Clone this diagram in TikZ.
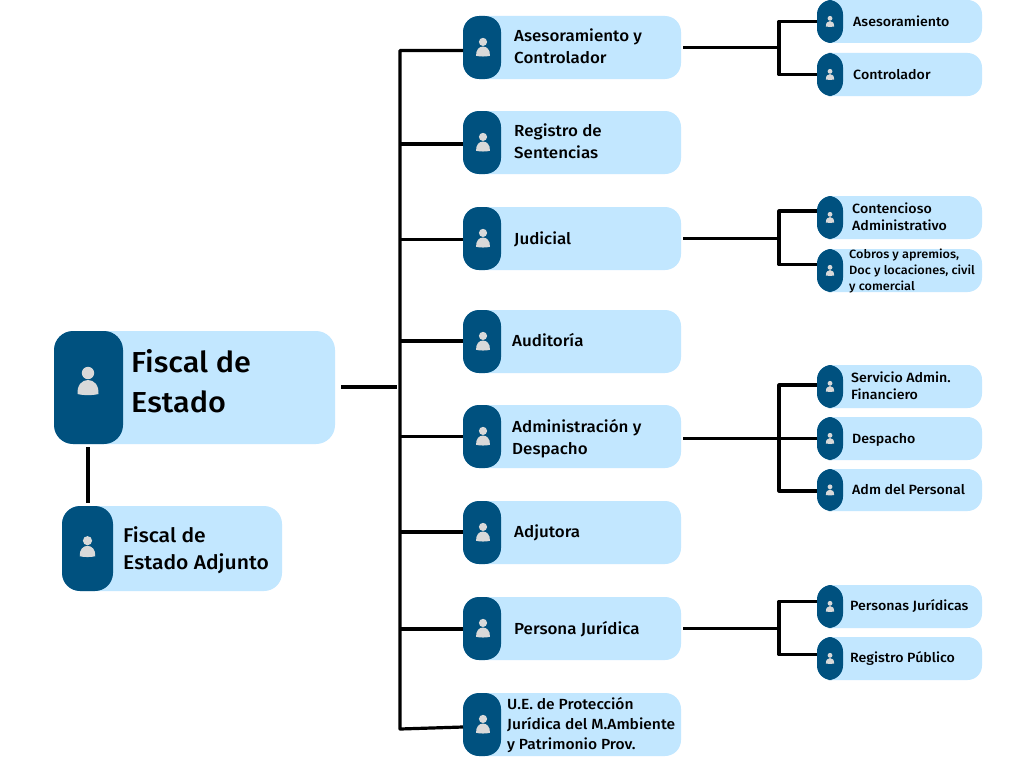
\documentclass[tikz,border=0pt]{standalone}
\usepackage{fontspec}
\setmainfont{Fira Sans Medium}[FakeStretch=1.06]
\definecolor{cardlight}{HTML}{C2E7FF}
\definecolor{carddark}{HTML}{00517F}
\definecolor{icongray}{HTML}{D9D9D9}
\tikzset{
  cardbody/.style={fill=cardlight,inner sep=0pt,outer sep=0pt,rounded corners=#1},
  cardhead/.style={fill=carddark,inner sep=0pt,outer sep=0pt,rounded corners=#1},
  labelbig/.style={anchor=west,align=left,inner sep=0pt,font=\fontsize{28.9}{40}\selectfont},
  labeladj/.style={anchor=west,align=left,inner sep=0pt,font=\fontsize{19.9}{27}\selectfont},
  labelmid/.style={anchor=west,align=left,inner sep=0pt,font=\fontsize{16}{22}\selectfont},
  labelsub/.style={anchor=west,align=left,inner sep=0pt,font=\fontsize{13.4}{17}\selectfont},
  labeltiny/.style={anchor=west,align=left,inner sep=0pt,font=\fontsize{12}{16}\selectfont},
  wire/.style={draw=black,line width=3.2pt,line join=round},
}
\newcommand{\orgcard}[9]{%
  \pgfmathsetmacro{\cw}{#4-#2}\pgfmathsetmacro{\ch}{#5-#3}%
  \pgfmathsetmacro{\cx}{(#2+#4)/2}\pgfmathsetmacro{\cy}{(#3+#5)/2}%
  \pgfmathsetmacro{\dw}{#6-#2}\pgfmathsetmacro{\dx}{(#2+#6)/2}%
  \pgfmathsetmacro{\icx}{\dx+\ix}\pgfmathsetmacro{\icy}{\cy+\iy}%
  \node[cardbody=#7,minimum width=\cw pt,minimum height=\ch pt] (#1) at (\cx,\cy) {};
  \node[cardhead=#7,minimum width=\dw pt,minimum height=\ch pt] (#1h) at (\dx,\cy) {};
  \begin{scope}[shift={(\icx,\icy)},scale=#8]
    \fill[icongray] (0,-13) circle (6.2);
    \fill[icongray] (-10.5,8) .. controls (-11,-1) and (-6,-6) .. (0,-6) .. controls (6,-6) and (11,-1) .. (10.5,8) .. controls (5,9.5) and (-5,9.5) .. (-10.5,8) -- cycle;
  \end{scope}
  \node[#9] (#1t) at (\textx,\cy)%
}
\begin{document}
\begin{tikzpicture}[x=1pt,y=-1pt]
\useasboundingbox (0,0) rectangle (1024,768);
\fill[white] (0,0) rectangle (1024,768);

\def\ix{-.5}\def\iy{-1.5}
\def\textx{131}\orgcard{main}{54}{331}{335}{444}{123}{19}{1}{labelbig,yshift=6pt} {Fiscal de\\Estado};
\def\ix{0}\def\iy{1.8}
\def\textx{123}\orgcard{adj}{62}{506}{282}{591}{113}{18}{.74}{labeladj,yshift=-2pt} {Fiscal de\\Estado Adjunto};

\def\ix{1}\def\iy{3}
\def\textx{514}\orgcard{ma}{463}{16}{681}{79}{501}{16}{.66}{labelmid,yshift=1pt} {Asesoramiento y\\Controlador};
\def\textx{514}\orgcard{mb}{463}{111}{681}{174}{501}{16}{.66}{labelmid,yshift=1pt} {Registro de\\Sentencias};
\def\textx{514}\orgcard{mc}{463}{207}{681}{270}{501}{16}{.66}{labelmid,yshift=-1pt} {Judicial};
\def\textx{512}\orgcard{md}{463}{310}{681}{373}{501}{16}{.66}{labelmid,yshift=1pt} {Auditoría};
\def\textx{512}\orgcard{me}{463}{405}{681}{468}{501}{16}{.66}{labelmid,yshift=-2pt} {Administración y\\Despacho};
\def\textx{514}\orgcard{mf}{463}{501}{681}{564}{501}{16}{.66}{labelmid,yshift=-0.5pt} {Adjutora};
\def\textx{514}\orgcard{mg}{463}{597}{681}{660}{501}{16}{.66}{labelmid,yshift=-1pt} {Persona Jurídica};
\def\textx{507}\orgcard{mh}{463}{693}{681}{756}{501}{16}{.66}{labelmid,font=\fontsize{14.7}{20}\selectfont,yshift=-1pt} {U.E. de Protección\\Jurídica del M.Ambiente\\y Patrimonio Prov.};

\def\ix{0}\def\iy{1.9}
\def\textx{853}\orgcard{sa}{817}{0}{982}{43}{843}{14.5}{.39}{labelsub} {Asesoramiento};
\def\textx{853}\orgcard{sb}{817}{53}{982}{96}{843}{14.5}{.39}{labelsub} {Controlador};
\def\textx{852}\orgcard{sc}{817}{196}{982}{239}{843}{14.5}{.39}{labelsub,yshift=1pt} {Contencioso\\Administrativo};
\def\textx{849}\orgcard{sd}{817}{249}{982}{292}{843}{14.5}{.39}{labeltiny,yshift=-0.5pt} {Cobros y apremios,\\Doc y locaciones, civil\\y comercial};
\def\textx{851}\orgcard{se}{817}{365}{982}{408}{843}{14.5}{.39}{labelsub,yshift=0.5pt} {Servicio Admin.\\Financiero};
\def\textx{852}\orgcard{sf}{817}{417}{982}{460}{843}{14.5}{.39}{labelsub,yshift=-1pt} {Despacho};
\def\textx{852}\orgcard{sg}{817}{469}{982}{511}{843}{14.5}{.39}{labelsub} {Adm del Personal};
\def\textx{850}\orgcard{sh}{817}{585}{982}{628}{843}{14.5}{.39}{labelsub} {Personas Jurídicas};
\def\textx{850}\orgcard{si}{817}{637}{982}{680}{843}{14.5}{.39}{labelsub} {Registro Público};

% trunk and stems
\coordinate (mainout) at (341,387);
\coordinate (trunkmid) at (397,387);
\coordinate (trunktop) at (400,50.5);
\coordinate (trunkbot) at (400,729);
\coordinate (uetap) at (463,727);
\coordinate (adjtop) at (88,503);
\coordinate (mainbot) at (88,447);
\draw[wire] (mainout) -- (trunkmid);
\draw[wire] (mainbot) -- (adjtop);
\draw[wire] (ma.west |- trunktop) -- (trunktop) -- (trunkbot) -- (mhh.west |- uetap);
\foreach \n/\ty in {mb/144,mc/239.5,md/341,me/436.5,mf/532,mg/629}{
  \coordinate (tap) at (400,\ty);
  \draw[wire] (\n h.west |- tap) -- (tap);
}

% sub-branches
\coordinate (a0) at (683,47.5);   \coordinate (a1) at (779,47.5);
\coordinate (a2) at (779,21.5);   \coordinate (a3) at (779,74.5);
\draw[wire] (a0) -- (a1);
\draw[wire] (sah.west |- a2) -- (a2) -- (a3) -- (sbh.west |- a3);
\coordinate (c0) at (683,238.5);  \coordinate (c1) at (779,238.5);
\coordinate (c2) at (779,211);  \coordinate (c3) at (779,264.5);
\draw[wire] (c0) -- (c1);
\draw[wire] (sch.west |- c2) -- (c2) -- (c3) -- (sdh.west |- c3);
\coordinate (e0) at (683,438.5);  \coordinate (e1) at (779,438.5);
\coordinate (e2) at (779,385);  \coordinate (e3) at (779,491);
\draw[wire] (e0) -- (e1) -- (sfh.west |- e1);
\draw[wire] (seh.west |- e2) -- (e2) -- (e3) -- (sgh.west |- e3);
\coordinate (g0) at (683,628.5);  \coordinate (g1) at (779,628.5);
\coordinate (g2) at (779,601.5);  \coordinate (g3) at (779,654.5);
\draw[wire] (g0) -- (g1);
\draw[wire] (shh.west |- g2) -- (g2) -- (g3) -- (sih.west |- g3);
\end{tikzpicture}
\end{document}
